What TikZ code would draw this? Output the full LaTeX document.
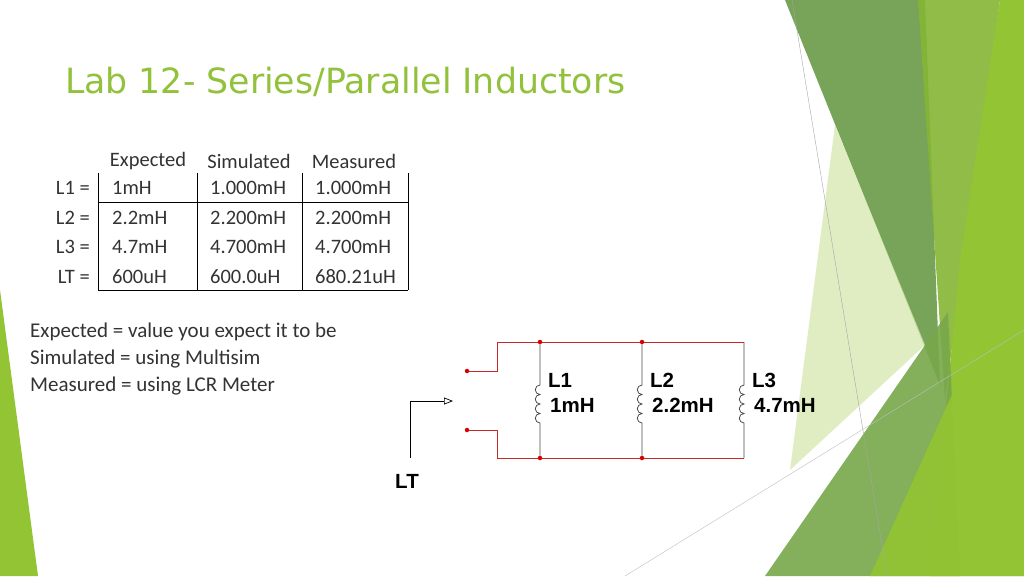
\documentclass[tikz,border=0pt]{standalone}
\usepackage{fontspec}
\setmainfont{Carlito}
\newfontfamily\titlefont{DejaVu Sans}
\newfontfamily\cktfont{Liberation Sans}
\usetikzlibrary{arrows.meta}
\definecolor{titlegreen}{RGB}{146,193,60}
\definecolor{darkleaf}{RGB}{112,160,80}
\definecolor{midleaf}{RGB}{133,181,52}
\definecolor{limeleaf}{RGB}{146,196,52}
\definecolor{paleleaf}{RGB}{214,232,176}
\definecolor{wirered}{RGB}{200,40,40}
\definecolor{tabtext}{RGB}{51,51,51}

\tikzset{
  wire/.style={draw=wirered, line width=0.9pt},
  branch/.style={draw=black!70, line width=0.8pt},
  junction/.style={circle, fill=red!85!black, inner sep=0pt, minimum size=4.5pt},
  celltext/.style={text=tabtext, font=\fontsize{20.5}{22}\selectfont, inner sep=0pt},
  legend/.style={text=tabtext, font=\fontsize{21}{22}\selectfont, inner sep=0pt, anchor=base west},
  ckttext/.style={font=\cktfont\bfseries\fontsize{20.5}{22}\selectfont, inner sep=0pt, anchor=base west},
}

\begin{document}
\begin{tikzpicture}[x=1pt, y=-1pt]
  \useasboundingbox (0,0) rectangle (1024,576);
  \fill[white] (0,0) rectangle (1024,576);

  % background leaves
  \fill[darkleaf, opacity=0.95] (785,0) -- (925,0) -- (940,385) -- cycle;
  \fill[midleaf, opacity=0.9] (918,0) -- (1000,0) -- (965,250) -- (945,400) -- cycle;
  \fill[limeleaf] (1000,0) -- (1024,0) -- (1024,576) -- (930,576) -- (960,260) -- cycle;
  \fill[paleleaf, opacity=0.75] (835,125) -- (925,345) -- (790,470) -- cycle;
  \fill[darkleaf!80!limeleaf, opacity=0.9] (765,576) -- (948,312) -- (960,576) -- cycle;
  \fill[limeleaf, opacity=0.95] (870,576) -- (1024,235) -- (1024,576) -- cycle;
  \fill[limeleaf] (0,290) -- (38,576) -- (0,576) -- cycle;
  \draw[black!35, line width=0.4pt] (792,0) -- (887,576);
  \draw[black!25, line width=0.4pt] (625,576) -- (1024,330);

  % title
  \node[anchor=base west, inner sep=0pt, text=titlegreen] (title) at (65,93)
    {\resizebox{560pt}{!}{\titlefont Lab 12- Series/Parallel Inductors}};

  % table
  \foreach \name/\xx in {Expected/148, Simulated/249, Measured/354}
    \node[celltext] (h\name) at (\xx,161) {\name};
  \foreach \lab/\yy/\ea/\sa/\ma in {L1/188/1mH/1.000mH/1.000mH,
                                     L2/218/2.2mH/2.200mH/2.200mH,
                                     L3/247/4.7mH/4.700mH/4.700mH,
                                     LT/277/600uH/600.0uH/680.21uH}{
    \node[celltext, anchor=east] (r\lab) at (90,\yy) {\lab\ =};
    \node[celltext, anchor=west] (e\lab) at (112,\yy) {\ea};
    \node[celltext, anchor=west] (s\lab) at (210,\yy) {\sa};
    \node[celltext, anchor=west] (m\lab) at (315,\yy) {\ma};
  }
  \foreach \xx in {98,197,302,408}
    \draw[black, line width=0.8pt] (\xx,173) -- (\xx,290);
  \draw[black, line width=0.8pt] (98,202) -- (408,202);
  \draw[black, line width=0.8pt] (98,290) -- (408,290);

  % legend
  \node[legend] (lexp) at (30,337) {Expected = value you expect it to be};
  \node[legend] (lsim) at (30,364) {Simulated = using Multisim};
  \node[legend] (lmea) at (30,391) {Measured = using LCR Meter};

  % circuit
  \node[junction] (pa) at (467,371) {};
  \node[junction] (pb) at (467,430) {};
  \node[junction] (t1) at (540,342) {};
  \node[junction] (t2) at (642,342) {};
  \coordinate (t3) at (744,342);
  \node[junction] (b1) at (540,458) {};
  \node[junction] (b2) at (642,458) {};
  \coordinate (b3) at (744,458);
  \draw[wire] (pa) -- (497,371) -- (497,342) -- (t1) -- (t2) -- (t3);
  \draw[wire] (pb) -- (497,430) -- (497,458) -- (b1) -- (b2) -- (b3);
  \foreach \i in {1,2,3}{
    \draw[branch] (t\i) -- ++(0,43)
      arc[start angle=90, end angle=270, radius=4.75pt]
      arc[start angle=90, end angle=270, radius=4.75pt]
      arc[start angle=90, end angle=270, radius=4.75pt]
      arc[start angle=90, end angle=270, radius=4.75pt]
      -- (b\i);
  }
  \node[ckttext] (n1) at (548,387) {L1};
  \node[ckttext] (v1) at (550,412) {1mH};
  \node[ckttext] (n2) at (650,387) {L2};
  \node[ckttext] (v2) at (652,412) {2.2mH};
  \node[ckttext] (n3) at (752,387) {L3};
  \node[ckttext] (v3) at (754,412) {4.7mH};

  % probe
  \coordinate (probe) at (410,458);
  \coordinate (tip) at (453,401);
  \draw[black, line width=0.7pt, -{Triangle[open, length=9pt, width=7pt]}] (probe) -- (410,401) -- (tip);
  \node[ckttext, anchor=base] (lt) at (407,488) {LT};
\end{tikzpicture}
\end{document}
